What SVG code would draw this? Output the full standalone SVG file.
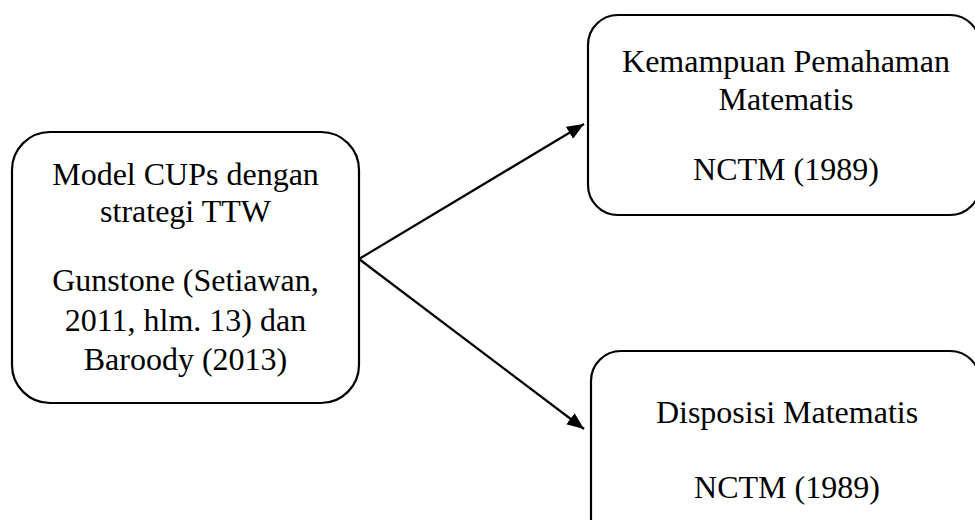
<svg xmlns="http://www.w3.org/2000/svg" width="975" height="520" viewBox="0 0 975 520">
<style>
.box{fill:#fff;stroke:#000;stroke-width:2.2}
.t{font-family:"Liberation Serif","Times New Roman",serif;font-size:32px;fill:#000;text-anchor:middle}
.conn{stroke:#000;stroke-width:2.2;fill:none;marker-end:url(#ah)}
</style>
<defs>
<marker id="ah" markerUnits="userSpaceOnUse" markerWidth="18" markerHeight="14" refX="17" refY="7" orient="auto">
<path d="M0,0 L17,7 L0,14 Z" fill="#000"/>
</marker>
</defs>
<rect width="975" height="520" fill="#fff"/>
<g id="node-cups">
<rect class="box" x="12" y="132" width="347" height="271" rx="38" ry="38"/>
<text class="t" x="185.5" y="185">Model CUPs dengan</text>
<text class="t" x="185.5" y="222">strategi TTW</text>
<text class="t" x="185.5" y="291">Gunstone (Setiawan,</text>
<text class="t" x="185.5" y="331">2011, hlm. 13) dan</text>
<text class="t" x="185.5" y="370">Baroody (2013)</text>
</g>
<g id="node-pemahaman">
<rect class="box" x="588" y="15" width="392" height="200" rx="30" ry="30"/>
<text class="t" x="786" y="72">Kemampuan Pemahaman</text>
<text class="t" x="786" y="110">Matematis</text>
<text class="t" x="786" y="180">NCTM (1989)</text>
</g>
<g id="node-disposisi">
<rect class="box" x="591" y="351" width="389" height="200" rx="30" ry="30"/>
<text class="t" x="787" y="423">Disposisi Matematis</text>
<text class="t" x="787" y="498">NCTM (1989)</text>
</g>
<g id="connectors">
<line class="conn" x1="359" y1="259" x2="584" y2="124"/>
<line class="conn" x1="359" y1="259" x2="584" y2="429"/>
</g>
</svg>
